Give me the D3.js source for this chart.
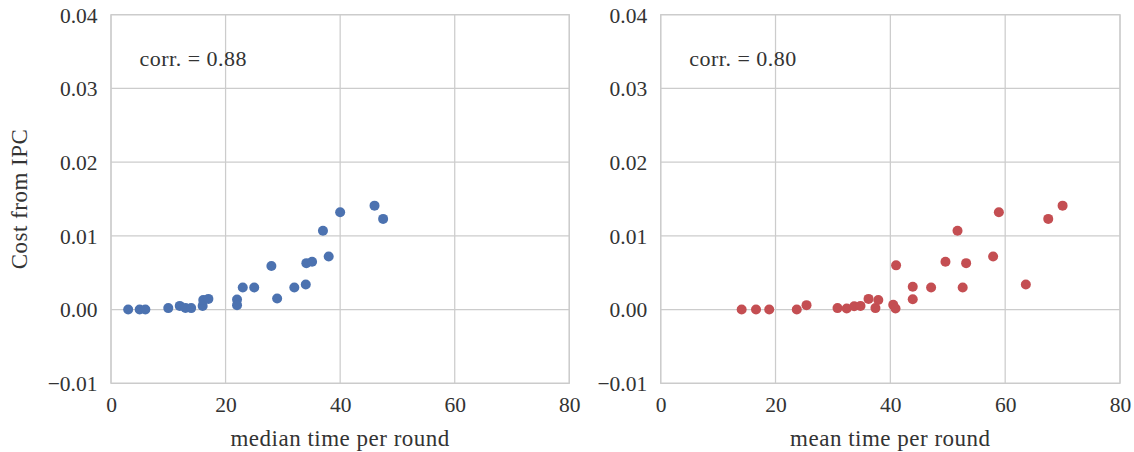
<!DOCTYPE html>
<html>
<head>
<meta charset="utf-8">
<script src="https://cdn.jsdelivr.net/npm/d3@7"></script>
<style>
  html, body { margin: 0; padding: 0; background: #fff; }
  text { font-family: "Liberation Serif", "Times New Roman", serif; fill: #333; }
</style>
</head>
<body>
<svg id="chart" width="1134" height="452"></svg>
<script>
// Per-session cost from IPC against time per round
const medianTime = [3, 5, 6, 10, 12, 13, 14, 16, 16.1, 17, 22, 22, 23, 25, 28, 29, 32, 34, 34.1, 35.1, 37, 38, 40, 46, 47.5];
const medianCost = [0, 0, 0, 0.0002, 0.0005, 0.00023, 0.0002, 0.0005, 0.0013, 0.00145, 0.00136, 0.0006, 0.0030, 0.0030, 0.0059, 0.0015, 0.0030, 0.0034, 0.0063, 0.0065, 0.0107, 0.0072, 0.0132, 0.0141, 0.0123];

const meanTime = [14.1, 16.6, 18.9, 23.7, 25.4, 30.8, 32.4, 33.7, 34.8, 36.2, 37.4, 37.9, 40.5, 40.9, 41.0, 43.9, 43.9, 47.1, 49.6, 51.7, 53.2, 52.6, 57.9, 58.9, 63.6, 67.5, 70.0];
const meanCost = [0, 0, 0, 0, 0.0006, 0.0002, 0.00014, 0.00045, 0.0005, 0.00145, 0.0002, 0.0013, 0.00064, 0.00014, 0.0060, 0.0031, 0.0014, 0.0030, 0.0065, 0.0107, 0.0063, 0.0030, 0.0072, 0.0132, 0.0034, 0.0123, 0.0141];

const xTicks = [0, 20, 40, 60, 80];
const yTicks = [-0.01, 0, 0.01, 0.02, 0.03, 0.04];

const panels = [
  { x: medianTime, y: medianCost, left: 111, right: 569.3, color: "#4C72B0", xlabel: "median time per round", corr: "corr. = 0.88", ylabel: "Cost from IPC" },
  { x: meanTime, y: meanCost, left: 660.7, right: 1120, color: "#C44E52", xlabel: "mean time per round", corr: "corr. = 0.80", ylabel: null }
];

const plotTop = 14.7, plotBottom = 383.3;
const svg = d3.select("#chart");
const grid = "#cccccc";

panels.forEach(p => {
  const x = d3.scaleLinear().domain([0, 80]).range([p.left, p.right]);
  const y = d3.scaleLinear().domain([-0.01, 0.04]).range([plotBottom, plotTop]);
  const g = svg.append("g");

  // grid lines
  g.selectAll("line.gx").data(xTicks).join("line")
    .attr("class", "gx")
    .attr("x1", d => x(d)).attr("x2", d => x(d))
    .attr("y1", plotTop).attr("y2", plotBottom)
    .attr("stroke", grid).attr("stroke-width", 1.25);
  g.selectAll("line.gy").data(yTicks).join("line")
    .attr("class", "gy")
    .attr("x1", p.left).attr("x2", p.right)
    .attr("y1", d => y(d)).attr("y2", d => y(d))
    .attr("stroke", grid).attr("stroke-width", 1.25);

  // frame
  g.append("rect")
    .attr("x", p.left).attr("y", plotTop)
    .attr("width", p.right - p.left).attr("height", plotBottom - plotTop)
    .attr("fill", "none").attr("stroke", grid).attr("stroke-width", 1.25);

  // tick labels via axes (no domain/tick lines)
  const xAxis = g.append("g").attr("transform", `translate(0,${plotBottom})`)
    .call(d3.axisBottom(x).tickValues(xTicks).tickSize(0).tickPadding(0).tickFormat(d3.format("d")));
  xAxis.select(".domain").remove();
  xAxis.selectAll("text").attr("y", 29).attr("dy", null)
    .style("font-size", "21.5px").style("font-family", "Liberation Serif, serif").attr("fill", "#333");

  const yAxis = g.append("g").attr("transform", `translate(${p.left},0)`)
    .call(d3.axisLeft(y).tickValues(yTicks).tickSize(0).tickPadding(0)
      .tickFormat(d => (d < 0 ? "\u2212" : "") + d3.format(".2f")(Math.abs(d))));
  yAxis.select(".domain").remove();
  yAxis.selectAll("text").attr("x", -13.5).attr("dy", "0.34em")
    .style("font-size", "21.5px").style("font-family", "Liberation Serif, serif").attr("fill", "#333");

  // points
  g.selectAll("circle").data(p.x.map((v, i) => [v, p.y[i]])).join("circle")
    .attr("cx", d => x(d[0])).attr("cy", d => y(d[1]))
    .attr("r", 5).attr("fill", p.color);

  // correlation note
  g.append("text")
    .attr("x", p.left + 28.5).attr("y", 66)
    .style("font-size", "22px").style("letter-spacing", "0.5px")
    .text(p.corr);

  // x axis title
  g.append("text")
    .attr("x", (p.left + p.right) / 2).attr("y", 446)
    .attr("text-anchor", "middle")
    .style("font-size", "23px").style("letter-spacing", "0.5px")
    .text(p.xlabel);

  if (p.ylabel) {
    g.append("text")
      .attr("transform", `translate(27,${(plotTop + plotBottom) / 2}) rotate(-90)`)
      .attr("text-anchor", "middle")
      .style("font-size", "23px").style("letter-spacing", "0.5px")
      .text(p.ylabel);
  }
});
</script>
</body>
</html>
